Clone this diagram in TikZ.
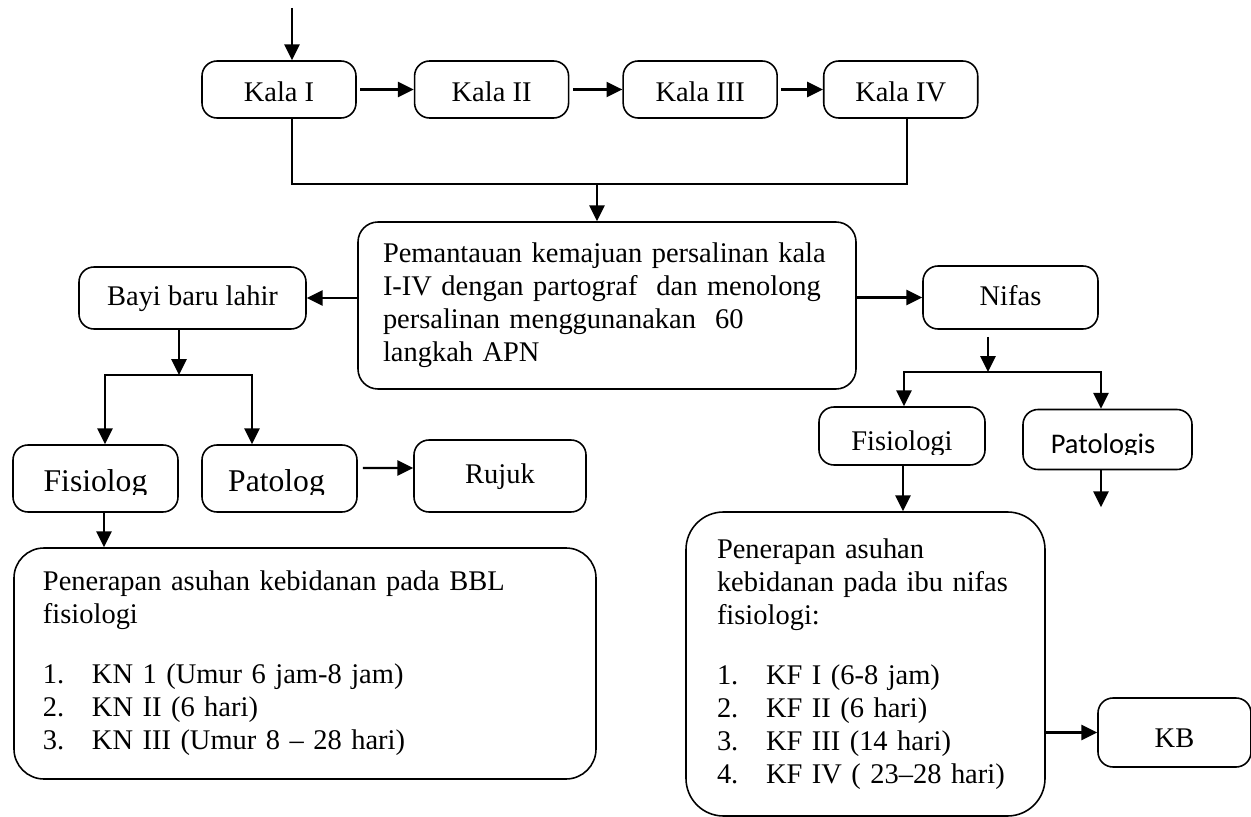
\documentclass[tikz,border=0pt]{standalone}
\usepackage{fontspec}
\setmainfont{Liberation Serif}
\newfontfamily\calibri{Carlito}
\usetikzlibrary{positioning,calc,arrows.meta}

\begin{document}
\begin{tikzpicture}[
    kotak/.style={draw, line width=0.9pt, rounded corners=0.3cm, inner sep=0pt,
      font=\fontsize{16.2}{18.8}\selectfont},
    satu/.style={kotak, text height=0.4cm, text depth=0.1cm},
    kala/.style={kotak, minimum width=3.08cm, minimum height=1.14cm, text height=0.5cm, text depth=0cm},
    isi/.style={kotak, align=left, inner ysep=0pt},
    panah/.style={line width=1.4pt, -{Triangle[length=9pt,width=8.5pt]}},
    garis/.style={line width=1.2pt},
    besar/.style={font=\fontsize{18}{20}\selectfont, anchor=base, inner sep=0pt}
    ]
    \useasboundingbox (0,0) rectangle (25.02,-16.34);

    % persalinan kala I - IV
    \node[kala] (kala1) at (5.58,-1.79) {Kala I};
    \node[kala, right=1.14cm of kala1] (kala2) {Kala II};
    \node[kala, right=1.06cm of kala2] (kala3) {Kala III};
    \node[kala, right=0.9cm of kala3] (kala4) {Kala IV};

    \coordinate (masuk) at (5.84,-0.16);
    \draw[panah] (masuk) -- (masuk |- kala1.north);
    \draw[panah, shorten <=2pt] (kala1) -- (kala2);
    \draw[panah, shorten <=2pt] (kala2) -- (kala3);
    \draw[panah, shorten <=2pt] (kala3) -- (kala4);

    \node[isi, rounded corners=0.4cm, inner xsep=0.5cm, minimum width=9.96cm,
      minimum height=3.34cm, text width=8.96cm] (pantau) at (12.14,-6.11)
      {Pemantauan kemajuan persalinan kala\\
       I-IV dengan partograf\ \ dan menolong\\
       persalinan menggunanakan\ \ 60\\
       langkah APN};

    \coordinate (sambung) at (11.94,-3.68);
    \draw[garis] (masuk |- kala1.south) |- (sambung) -| ($(kala4.south)+(0.12,0)$);
    \draw[panah] (sambung) -- (sambung |- pantau.north);

    % bayi baru lahir
    \node[satu, minimum width=4.54cm, minimum height=1.24cm] (bayi) at (3.85,-5.96) {Bayi baru lahir};
    \draw[panah] (pantau.west |- bayi.east) -- (bayi.east);

    \node[kotak, minimum width=3.3cm, minimum height=1.34cm] (fisiolog) at (1.91,-9.57) {};
    \node[kotak, minimum width=3.1cm, minimum height=1.34cm] (patolog) at (5.59,-9.57) {};
    \begin{scope}
      \clip (fisiolog.north west) rectangle ($(patolog.east)+(0,-0.31)$);
      \node[besar] (tfisiolog) at ($(fisiolog.center)+(0,-0.25)$) {Fisiolog};
      \node[besar] (tpatolog) at ($(patolog.center)+(-0.06,-0.25)$) {Patolog};
    \end{scope}
    \node[satu, minimum width=3.44cm, minimum height=1.44cm] (rujuk) at (10.0,-9.52) {Rujuk};

    \coordinate (cabangkiri) at (3.58,-7.5);
    \draw[panah] (cabangkiri |- bayi.south) -- (cabangkiri);
    \draw[panah] (cabangkiri) -| ($(fisiolog.north)+(0.19,0)$);
    \draw[panah] (cabangkiri) -| ($(patolog.north)+(-0.55,0)$);
    \draw[panah] ($(patolog.east)+(0.1,0.21)$) -- ($(rujuk.west)+(0,0.16)$);

    \node[isi, rounded corners=0.6cm, inner xsep=0.58cm, minimum width=11.64cm,
      minimum height=4.62cm, text width=10.48cm] (bbl) at (6.10,-13.27)
      {Penerapan asuhan kebidanan pada BBL\\
       fisiologi\\[0.54cm]
       \makebox[0.98cm][l]{1.}KN 1 (Umur 6 jam-8 jam)\\
       \makebox[0.98cm][l]{2.}KN II (6 hari)\\
       \makebox[0.98cm][l]{3.}KN III (Umur 8 -- 28 hari)};
    \coordinate (turunkiri) at ($(fisiolog.south)+(0.17,0)$);
    \draw[panah] (turunkiri) -- (turunkiri |- bbl.north);

    % nifas
    \node[satu, minimum width=3.5cm, minimum height=1.26cm] (nifas) at (20.21,-5.95) {Nifas};
    \draw[panah] (pantau.east |- nifas.west) -- (nifas.west);

    \node[kotak, minimum width=3.32cm, minimum height=1.16cm] (fisiologi) at (18.04,-8.72) {};
    \node[kotak, minimum width=3.38cm, minimum height=1.2cm] (patologis) at (22.15,-8.79) {};
    \begin{scope}
      \clip (fisiologi.north west) rectangle ($(patologis.east)+(0,-0.3)$);
      \node[kotak, draw=none, anchor=base] (tfisiologi) at ($(fisiologi.center)+(0,-0.28)$) {Fisiologi};
    \end{scope}
    \begin{scope}
      \clip (patologis.north west) rectangle ($(patologis.east)+(0,-0.3)$);
      \node[kotak, draw=none, anchor=base, font=\calibri\fontsize{16.2}{18.8}\selectfont]
        (tpatologis) at ($(patologis.center)+(-0.09,-0.27)$) {Patologis};
    \end{scope}

    \coordinate (cabangkanan) at (19.76,-7.44);
    \draw[panah] (cabangkanan |- nifas.south) ++(0,-0.14) -- (cabangkanan);
    \draw[panah] (cabangkanan) -| ($(fisiologi.north)+(0.04,0)$);
    \draw[panah] (cabangkanan) -| ($(patologis.north)+(-0.13,0)$);
    \coordinate (lanjut) at ($(patologis.south)+(-0.13,-0.74)$);
    \draw[panah] (lanjut |- patologis.south) -- (lanjut);

    \node[isi, rounded corners=0.75cm, inner xsep=0.62cm, minimum width=7.18cm,
      minimum height=6.08cm, text width=5.94cm] (nifasfis) at (17.31,-13.28)
      {Penerapan asuhan\\
       kebidanan pada ibu nifas\\
       fisiologi:\\[0.54cm]
       \makebox[0.98cm][l]{1.}KF I (6-8 jam)\\
       \makebox[0.98cm][l]{2.}KF II (6 hari)\\
       \makebox[0.98cm][l]{3.}KF III (14 hari)\\
       \makebox[0.98cm][l]{4.}KF IV ( 23--28 hari)};
    \coordinate (turunkanan) at ($(fisiologi.south)+(0.02,0)$);
    \draw[panah] (turunkanan) -- (turunkanan |- nifasfis.north);

    \node[kotak, minimum width=3.06cm, minimum height=1.38cm, text height=0.58cm, text depth=0cm] (kb) at (23.49,-14.65) {KB};
    \draw[panah] (nifasfis.east |- kb.west) -- (kb.west);
\end{tikzpicture}
\end{document}
